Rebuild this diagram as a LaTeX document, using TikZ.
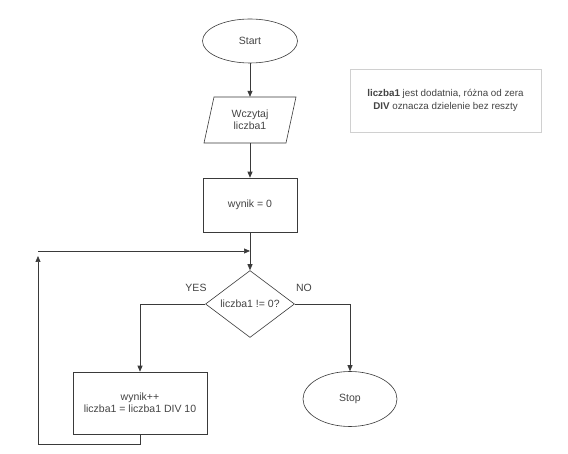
\documentclass[tikz,border=0pt]{standalone}
\usepackage{fontspec}
\setmainfont{Liberation Sans}
\usetikzlibrary{shapes.geometric,arrows.meta}
\definecolor{ink}{HTML}{3A3A3A}
\definecolor{txt}{HTML}{444444}
\definecolor{notebd}{HTML}{D0D0D0}
\begin{document}
\begin{tikzpicture}[x=1pt,y=-1pt,
  every node/.style={font=\fontsize{10.5}{12}\selectfont, text=txt},
  line/.style={draw=ink, line width=0.7pt},
  arr/.style={line, -{Triangle[length=6pt,width=5pt]}},
  term/.style={ellipse, draw=ink, line width=0.6pt, inner sep=0pt},
  procbox/.style={rectangle, draw=ink, line width=0.6pt, inner sep=0pt, align=center},
  decision/.style={diamond, draw=ink, line width=0.6pt, inner sep=0pt},
  lbl/.style={font=\fontsize{10.5}{12}\selectfont, text=txt}
]
\useasboundingbox[fill=white] (0,0) rectangle (568,454);

\node[term, minimum width=95pt, minimum height=44pt] (start) at (250,41) {Start};

\node[rectangle, inner sep=0pt, minimum width=82pt, minimum height=46pt, align=center] (read) at (250,120) {Wczytaj\\liczba1};
\draw[ink, line width=0.6pt] (214,97) -- (296,97) -- (286,143) -- (204,143) -- cycle;

\node[procbox, minimum width=94pt, minimum height=54pt] (init) at (250,205) {wynik = 0};

\node[decision, minimum width=89pt, minimum height=62pt] (dec) at (250,304) {liczba1 != 0?};

\node[procbox, minimum width=134pt, minimum height=62pt] (body) at (140,403) {wynik++\\liczba1 = liczba1 DIV 10};

\node[term, minimum width=94pt, minimum height=55pt] (stop) at (350,399) {Stop};

\node[rectangle, draw=notebd, line width=0.6pt, minimum width=191pt, minimum height=63pt, align=center, font=\fontsize{9.8}{12.5}\selectfont] (note) at (445.5,100.5)
  {\textbf{liczba1} jest dodatnia, różna od zera\\\textbf{DIV} oznacza dzielenie bez reszty};

\node[lbl] (yes) at (196,288) {YES};
\node[lbl] (no) at (304,288) {NO};

\coordinate (lb) at (38,444);
\coordinate (lt) at (38,256);
\coordinate (jl) at (38,251);
\coordinate (jr) at (250,251);

\draw[arr] (start.south) -- (read.north);
\draw[arr] (read.south) -- (init.north);
\draw[arr] (init.south) -- (dec.north);
\draw[arr] (dec.west) -| (body.north);
\draw[arr] (dec.east) -| (stop.north);
\draw[arr] (body.south) |- (lb) -- (lt);
\draw[arr] (jl) -- (jr);
\end{tikzpicture}
\end{document}
